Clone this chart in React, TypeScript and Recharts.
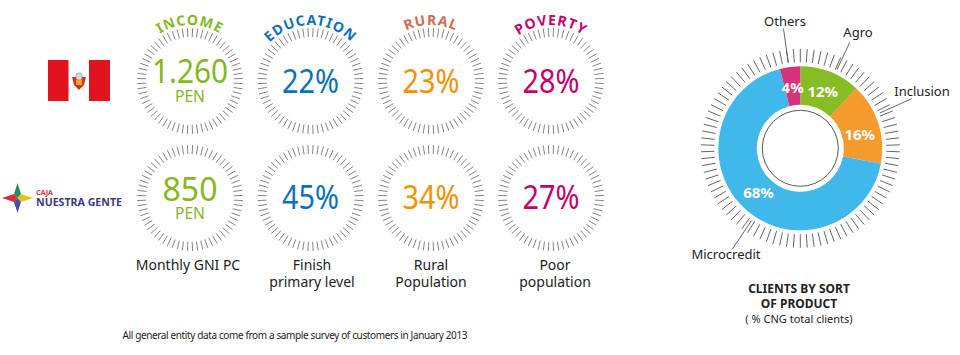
import { PieChart, Pie, Cell } from 'recharts'

// stat circles
const metrics = ['INCOME', 'EDUCATION', 'RURAL', 'POVERTY']
const peruValues = ['1.260', '22%', '23%', '28%']
const cajaValues = ['850', '45%', '34%', '27%']
const captions = [['Monthly GNI PC'], ['Finish', 'primary level'], ['Rural', 'Population'], ['Poor', 'population']]

// donut
const products = ['Agro', 'Inclusion', 'Microcredit', 'Others']
const productShares = [12, 16, 68, 4]

const FONT = '"Noto Sans", sans-serif'
const INK = '#222'
const TICK = '#666'
const RING_TICK = '#858585'
const METRIC_COLORS = ['#85b81f', '#0a72bd', '#f39200', '#c8006c']
const TITLE_COLORS = ['#85b81f', '#0a72bd', '#d4694f', '#c8006c']
const PRODUCT_COLORS = ['#86bc24', '#f59a2c', '#40b8ec', '#d8327c']

const COLUMN_X = [190, 310.5, 431, 551]
const ROW_Y = [81, 198]
const DONUT_X = 800.3
const DONUT_Y = 148.3

const ringTicks = Array.from({ length: 64 }, () => ({ value: 1 }))
const donutTicks = Array.from({ length: 90 }, () => ({ value: 1 }))
const donutData = products.map((name, i) => ({ name, value: productShares[i] }))

const polar = (cx: number, cy: number, r: number, deg: number) => ({
  x: cx + r * Math.cos((-deg * Math.PI) / 180),
  y: cy + r * Math.sin((-deg * Math.PI) / 180),
})

// the reference face is narrower than Noto Sans, so squeeze the big numbers
const valueWidth = (v: string) => (v.includes('%') ? 57 : v.length === 3 ? 55 : 76)

function tickShape(color: string) {
  return function TickLine(props: any) {
    const { cx, cy, innerRadius, outerRadius, midAngle } = props
    const a = polar(cx, cy, innerRadius, midAngle)
    const b = polar(cx, cy, outerRadius, midAngle)
    return <line x1={a.x} y1={a.y} x2={b.x} y2={b.y} stroke={color} strokeWidth={1} />
  }
}
const RingTick = tickShape(RING_TICK)
const DonutTick = tickShape(TICK)

// leader line angle, radii and where the name sits, per product
const LEADERS: Record<string, any> = {
  Agro: { angle: 65, r1: 87, r2: 117, x: 858, y: 37 },
  Inclusion: { angle: 24, r1: 87, r2: 122, x: 922, y: 96 },
  Microcredit: { angle: 236, r1: 87, r2: 122, x: 726, y: 259 },
  Others: { angle: 98, r1: 87, r2: 121, x: 785, y: 26 },
}
const SHARE_ANGLE_NUDGE: Record<string, number> = { Inclusion: -5 }

function DonutLabel(props: any) {
  const { cx, cy, midAngle, name, value } = props
  const leader = LEADERS[name]
  const a = polar(cx, cy, leader.r1, leader.angle)
  const b = polar(cx, cy, leader.r2, leader.angle)
  const share = polar(cx, cy, 61, midAngle + (SHARE_ANGLE_NUDGE[name] || 0))
  return (
    <g fontFamily={FONT}>
      <line x1={a.x} y1={a.y} x2={b.x} y2={b.y} stroke={TICK} strokeWidth={1} />
      <text x={leader.x} y={leader.y} textAnchor="middle" fontSize={13} fill={INK}>
        {name}
      </text>
      <text x={share.x} y={share.y + 5} textAnchor="middle" fontSize={15} fontWeight={700} fill="#fff">
        {value}%
      </text>
    </g>
  )
}

function Flag() {
  return (
    <g>
      <rect x={48} y={60} width={20.5} height={41} fill="#e2131f" />
      <rect x={89} y={60} width={21} height={41} fill="#e2131f" />
      <path d="M72 77 L86 77 L84 85 L81 88 L79 90 L77 88 L74 85 Z" fill="#d8321e" />
      <rect x={76} y={73} width={6} height={7} rx={2} fill="#d3d8d8" stroke="#777" strokeWidth={0.5} />
      <rect x={76} y={80} width={6} height={5} fill="#f0a818" />
    </g>
  )
}

function Logo() {
  return (
    <g>
      <polygon points="17.5,183 21,194 17.5,198 14,194" fill="#1f8f57" />
      <polygon points="2,198 14,194 17.5,198 14,202" fill="#dc2a3c" />
      <polygon points="33,198 21,194 17.5,198 21,202" fill="#d6c821" />
      <polygon points="17.5,213 14,202 17.5,198 21,202" fill="#4b4c9c" />
      <text x={36} y={195} fontFamily={FONT} fontSize={7.5} fontWeight={700} fill="#e5394a" textLength={17}>CAJA</text>
      <text x={36} y={206} fontFamily={FONT} fontSize={11} fontWeight={700} fill="#3b3a80" textLength={86} lengthAdjust="spacingAndGlyphs">NUESTRA GENTE</text>
    </g>
  )
}

export default function App() {
  return (
    <div style={{ position: 'absolute', left: 0, top: 0, width: 960, height: 355, background: '#fff' }}>
      <PieChart width={960} height={355} margin={{ top: 0, right: 0, bottom: 0, left: 0 }}>
        <defs>
          {COLUMN_X.map((x, i) => (
            <path key={i} id={`arc-${i}`} d={`M${x - 56} ${ROW_Y[0]} A56 56 0 0 1 ${x + 56} ${ROW_Y[0]}`} fill="none" />
          ))}
        </defs>

        {ROW_Y.flatMap((y) =>
          COLUMN_X.map((x) => (
            <Pie
              key={`${x}-${y}`}
              data={ringTicks}
              dataKey="value"
              cx={x}
              cy={y}
              innerRadius={44}
              outerRadius={53}
              startAngle={90}
              endAngle={-270}
              stroke="none"
              shape={RingTick}
              isAnimationActive={false}
            />
          ))
        )}

        <Pie
          data={donutTicks}
          dataKey="value"
          cx={DONUT_X}
          cy={DONUT_Y}
          innerRadius={86}
          outerRadius={99.5}
          startAngle={92}
          endAngle={-268}
          stroke="none"
          shape={DonutTick}
          isAnimationActive={false}
        />
        <Pie
          data={donutData}
          dataKey="value"
          cx={DONUT_X}
          cy={DONUT_Y}
          innerRadius={43.5}
          outerRadius={82}
          startAngle={90}
          endAngle={-270}
          stroke="none"
          label={DonutLabel}
          labelLine={false}
          isAnimationActive={false}
        >
          {donutData.map((d, i) => (
            <Cell key={d.name} fill={PRODUCT_COLORS[i]} />
          ))}
        </Pie>
        <circle cx={DONUT_X} cy={DONUT_Y} r={38} fill="none" stroke="#555" strokeWidth={1} />

        <Flag />
        <Logo />

        <g fontFamily={FONT} textAnchor="middle">
          {metrics.map((m, i) => (
            <text key={m} fontSize={14} fontWeight={700} letterSpacing={1} fill={TITLE_COLORS[i]}>
              <textPath href={`#arc-${i}`} startOffset="50%">
                {m}
              </textPath>
            </text>
          ))}

          {peruValues.map((v, i) => (
            <text key={v} x={COLUMN_X[i]} y={i === 0 ? 83 : 93} fontSize={33} fill={METRIC_COLORS[i]} textLength={valueWidth(v)} lengthAdjust="spacingAndGlyphs">
              {v}
            </text>
          ))}
          {cajaValues.map((v, i) => (
            <text key={v} x={COLUMN_X[i]} y={i === 0 ? 201 : 209} fontSize={33} fill={METRIC_COLORS[i]} textLength={valueWidth(v)} lengthAdjust="spacingAndGlyphs">
              {v}
            </text>
          ))}
          <text x={190} y={102} fontSize={17} fill={METRIC_COLORS[0]} textLength={30} lengthAdjust="spacingAndGlyphs">PEN</text>
          <text x={190} y={219} fontSize={17} fill={METRIC_COLORS[0]} textLength={30} lengthAdjust="spacingAndGlyphs">PEN</text>

          {captions.map((lines, i) =>
            lines.map((line, j) => (
              <text key={line} x={[188, 312, 431, 555][i]} y={270 + j * 17} fontSize={14} fill={INK}>
                {line}
              </text>
            ))
          )}

          <text x={799} y={293} fontSize={12} fontWeight={700} fill={INK}>CLIENTS BY SORT</text>
          <text x={799} y={308} fontSize={12} fontWeight={700} fill={INK}>OF PRODUCT</text>
          <text x={799} y={323} fontSize={11} fill={INK}>( % CNG total clients)</text>
          <text x={295} y={339} fontSize={10} fill={INK} textLength={345}>
            All general entity data come from a sample survey of customers in January 2013
          </text>
        </g>
      </PieChart>
    </div>
  )
}
